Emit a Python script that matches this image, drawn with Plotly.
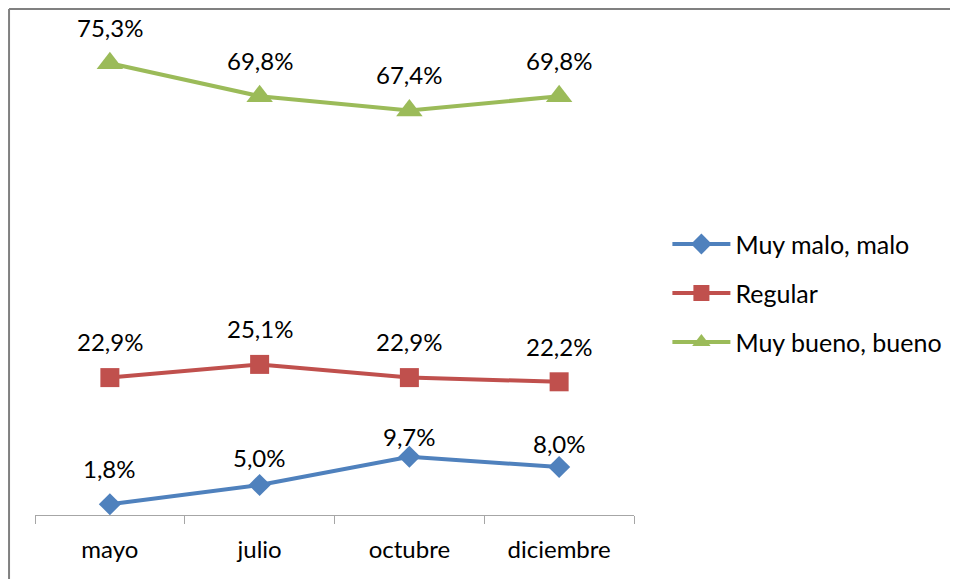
import plotly.graph_objects as go

categories = ["mayo", "julio", "octubre", "diciembre"]
muy_malo = [1.8, 5.0, 9.7, 8.0]
regular = [22.9, 25.1, 22.9, 22.2]
muy_bueno = [75.3, 69.8, 67.4, 69.8]

series = [
    ("Muy malo, malo", muy_malo, "#4F81BD", "diamond", 17, [36, 28, 20, 24]),
    ("Regular", regular, "#C0504D", "square", 19, [36, 36, 36, 35]),
    ("Muy bueno, bueno", muy_bueno, "#9BBB59", "triangle-up", 23, [36, 36, 36, 36]),
]

FONT = "Lato"
W, H = 950, 571
L, T, PW, PH = 27, 27, 600, 480

fig = go.Figure()
annotations = []
for i, (name, vals, color, sym, msize, shifts) in enumerate(series):
    fig.add_trace(go.Scatter(
        x=categories, y=vals, name=name, mode="lines+markers",
        line=dict(color=color, width=4),
        marker=dict(symbol=sym, size=msize, color=color),
        legendgroup=f"g{i}",
    ))
    for c, v, s in zip(categories, vals, shifts):
        annotations.append(dict(
            x=c, y=v, xref="x", yref="y", text=f"{v:.1f}%".replace(".", ","),
            showarrow=False, yshift=s, font=dict(family=FONT, size=24, color="#000000"),
        ))

fig.update_layout(
    width=W, height=H,
    margin=dict(l=L, r=W - L - PW, t=T, b=H - T - PH),
    paper_bgcolor="white", plot_bgcolor="white",
    font=dict(family=FONT, size=24, color="#000000"),
    annotations=annotations,
    showlegend=True,
    legend=dict(x=1.054, y=0.462, xanchor="left", yanchor="middle",
                font=dict(family=FONT, size=25, color="#000000"),
                tracegroupgap=13.5, traceorder="grouped", itemwidth=58),
    xaxis=dict(type="category", range=[-0.5, 3.5], showline=True, linecolor="#A6A6A6",
               linewidth=1, ticks="outside", tickson="boundaries", ticklen=8,
               tickcolor="#A6A6A6", showgrid=False, zeroline=False, ticklabelstandoff=13,
               tickfont=dict(family=FONT, size=24)),
    yaxis=dict(range=[0, 80], visible=False, showgrid=False, zeroline=False),
    shapes=[
        dict(type="line", xref="paper", yref="paper", x0=(1 - L) / PW, x1=(W + 5 - L) / PW,
             y0=(T + PH - 1) / PH, y1=(T + PH - 1) / PH, line=dict(color="#808080", width=2)),
        dict(type="line", xref="paper", yref="paper", x0=(1 - L) / PW, x1=(1 - L) / PW,
             y0=(T + PH - 1) / PH, y1=(T + PH - H - 5) / PH, line=dict(color="#808080", width=2)),
    ],
)

fig.write_html("out.html")
